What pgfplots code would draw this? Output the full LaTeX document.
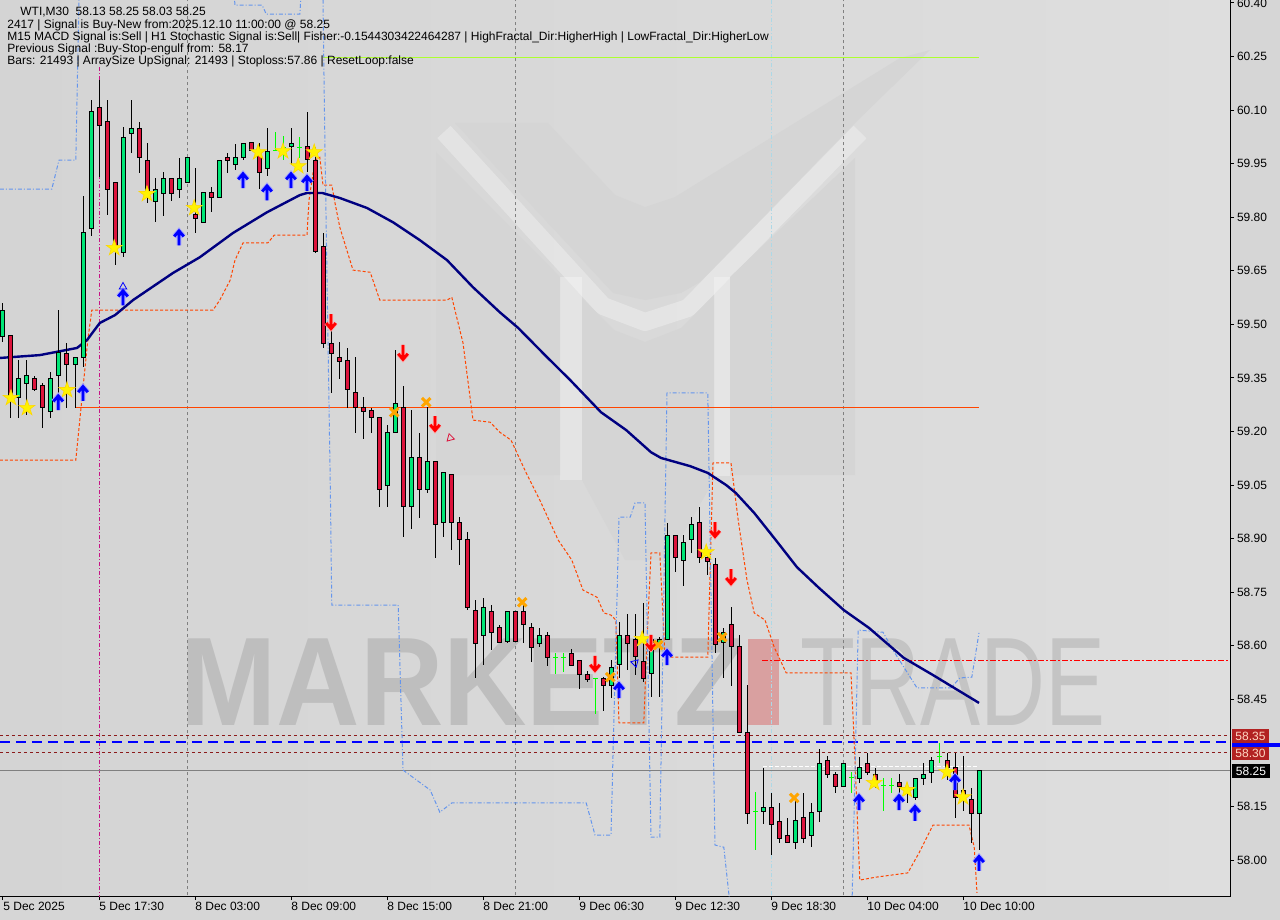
\documentclass[border=0pt]{standalone}
\usepackage{fontspec}
\setmainfont{Liberation Sans}
\usepackage{pgfplots}
\usepackage{pgfplotstable}
\pgfplotsset{compat=1.18}
\definecolor{bull}{RGB}{0,230,118}
\definecolor{bear}{RGB}{220,20,60}
\definecolor{doji}{RGB}{0,255,0}
\definecolor{slc}{RGB}{255,69,0}
\definecolor{envc}{RGB}{100,149,237}
\definecolor{mac}{RGB}{0,0,128}
\definecolor{tagred}{RGB}{178,34,34}
\definecolor{dred}{RGB}{139,26,26}
\definecolor{winbg}{RGB}{214,214,214}
\definecolor{bgL}{RGB}{212,212,212}
\definecolor{bgM}{RGB}{235,235,235}
\definecolor{bgR}{RGB}{222,222,222}
\definecolor{logo}{RGB}{213,213,213}
\definecolor{wm}{RGB}{190,190,190}
\definecolor{wm2}{RGB}{196,196,196}
\definecolor{wmpink}{RGB}{217,160,160}
\definecolor{ygreen}{RGB}{173,255,47}
\definecolor{vmag}{RGB}{199,21,133}
\definecolor{lblue}{RGB}{173,216,230}
\definecolor{xorange}{RGB}{255,165,0}

\pgfdeclareplotmark{ystar}{%
  \pgfpathmoveto{\pgfpoint{0pt}{\pgfplotmarksize}}%
  \pgfpathlineto{\pgfpoint{-0.2245\pgfplotmarksize}{0.309\pgfplotmarksize}}%
  \pgfpathlineto{\pgfpoint{-0.951\pgfplotmarksize}{0.309\pgfplotmarksize}}%
  \pgfpathlineto{\pgfpoint{-0.363\pgfplotmarksize}{-0.118\pgfplotmarksize}}%
  \pgfpathlineto{\pgfpoint{-0.588\pgfplotmarksize}{-0.809\pgfplotmarksize}}%
  \pgfpathlineto{\pgfpoint{0pt}{-0.382\pgfplotmarksize}}%
  \pgfpathlineto{\pgfpoint{0.588\pgfplotmarksize}{-0.809\pgfplotmarksize}}%
  \pgfpathlineto{\pgfpoint{0.363\pgfplotmarksize}{-0.118\pgfplotmarksize}}%
  \pgfpathlineto{\pgfpoint{0.951\pgfplotmarksize}{0.309\pgfplotmarksize}}%
  \pgfpathlineto{\pgfpoint{0.2245\pgfplotmarksize}{0.309\pgfplotmarksize}}%
  \pgfpathclose
  \pgfusepathqfillstroke}
\pgfdeclareplotmark{uarrow}{%
  \pgfpathmoveto{\pgfpoint{0pt}{-\pgfplotmarksize}}%
  \pgfpathlineto{\pgfpoint{0pt}{0.75\pgfplotmarksize}}%
  \pgfpathmoveto{\pgfpoint{-0.6\pgfplotmarksize}{0.1\pgfplotmarksize}}%
  \pgfpathlineto{\pgfpoint{0pt}{0.8\pgfplotmarksize}}%
  \pgfpathlineto{\pgfpoint{0.6\pgfplotmarksize}{0.1\pgfplotmarksize}}%
  \pgfusepathqstroke}
\pgfdeclareplotmark{darrow}{%
  \pgfpathmoveto{\pgfpoint{0pt}{\pgfplotmarksize}}%
  \pgfpathlineto{\pgfpoint{0pt}{-0.75\pgfplotmarksize}}%
  \pgfpathmoveto{\pgfpoint{-0.6\pgfplotmarksize}{-0.1\pgfplotmarksize}}%
  \pgfpathlineto{\pgfpoint{0pt}{-0.8\pgfplotmarksize}}%
  \pgfpathlineto{\pgfpoint{0.6\pgfplotmarksize}{-0.1\pgfplotmarksize}}%
  \pgfusepathqstroke}

% bullish candles (close above open)
\pgfplotstableread{
i O H L C
0 59.466 59.560 59.450 59.540
2 59.296 59.400 59.238 59.350
3 59.336 59.400 59.246 59.358
6 59.257 59.366 59.238 59.350
7 59.358 59.540 59.308 59.420
9 59.389 59.408 59.268 59.408
10 59.408 59.859 59.380 59.758
11 59.770 60.128 59.747 60.097
15 59.700 60.052 59.688 60.024
16 60.036 60.128 59.980 60.050
19 59.845 59.910 59.786 59.879
20 59.868 59.929 59.806 59.910
22 59.879 59.968 59.856 59.910
23 59.898 59.968 59.898 59.968
25 59.786 59.868 59.786 59.868
27 59.856 59.960 59.856 59.960
29 59.949 60.008 59.935 59.968
30 59.968 60.008 59.960 60.008
33 59.938 60.050 59.915 59.985
36 59.999 60.050 59.946 60.008
48 59.050 59.218 58.990 59.198
49 59.198 59.428 59.198 59.280
51 58.990 59.260 58.927 59.128
53 59.039 59.268 59.028 59.117
55 58.946 59.086 58.907 59.086
60 58.630 58.734 58.546 58.708
63 58.613 58.697 58.608 58.697
67 58.608 58.650 58.596 58.630
76 58.490 58.560 58.454 58.540
77 58.549 58.666 58.510 58.630
81 58.521 58.619 58.456 58.619
82 58.608 58.625 58.456 58.619
83 58.619 58.944 58.619 58.910
85 58.840 58.910 58.767 58.890
86 58.899 58.960 58.860 58.941
90 58.610 58.650 58.510 58.638
95 58.137 58.258 58.101 58.148
99 58.050 58.165 58.031 58.109
101 58.067 58.160 58.036 58.132
102 58.137 58.311 58.107 58.272
105 58.207 58.272 58.207 58.272
107 58.230 58.291 58.218 58.260
114 58.176 58.230 58.168 58.230
115 58.230 58.272 58.210 58.241
116 58.246 58.291 58.218 58.280
122 58.130 58.250 58.030 58.250
}\upC
% bearish candles
\pgfplotstableread{
i O H L C
1 59.470 59.470 59.238 59.296
4 59.350 59.355 59.313 59.319
5 59.330 59.338 59.210 59.268
8 59.420 59.448 59.268 59.389
12 60.108 60.184 59.912 60.058
13 60.069 60.128 59.806 59.879
14 59.898 59.898 59.669 59.716
17 60.050 60.069 59.926 59.968
18 59.960 60.008 59.840 59.873
21 59.910 59.910 59.845 59.868
24 59.809 59.938 59.756 59.798
26 59.868 59.887 59.817 59.856
28 59.968 59.980 59.926 59.960
31 60.008 60.008 59.988 59.988
32 59.974 60.008 59.879 59.926
38 59.999 60.094 59.926 59.960
39 59.960 59.996 59.700 59.705
40 59.719 59.756 59.436 59.448
41 59.448 59.492 59.308 59.420
42 59.408 59.450 59.347 59.397
43 59.400 59.436 59.268 59.319
44 59.310 59.408 59.196 59.268
45 59.268 59.299 59.179 59.257
46 59.260 59.266 59.196 59.240
47 59.240 59.240 58.990 59.039
50 59.268 59.330 58.907 58.990
52 59.128 59.198 58.958 59.039
54 59.117 59.117 58.846 58.941
56 59.081 59.081 58.868 58.946
57 58.946 58.960 58.826 58.899
58 58.899 58.918 58.700 58.708
59 58.700 58.728 58.510 58.608
61 58.697 58.714 58.588 58.638
62 58.650 58.661 58.608 58.608
64 58.697 58.697 58.613 58.613
65 58.697 58.714 58.608 58.661
66 58.650 58.666 58.557 58.596
68 58.630 58.641 58.546 58.568
71 58.580 58.591 58.546 58.546
72 58.560 58.560 58.479 58.521
73 58.521 58.529 58.498 58.507
75 58.510 58.512 58.417 58.490
78 58.630 58.689 58.532 58.608
79 58.619 58.689 58.518 58.571
80 58.557 58.720 58.498 58.510
84 58.910 58.910 58.806 58.848
87 58.946 58.988 58.832 58.848
88 58.848 58.860 58.798 58.837
89 58.829 58.846 58.580 58.605
91 58.661 58.711 58.487 58.599
92 58.599 58.630 58.358 58.358
93 58.358 58.490 58.101 58.132
96 58.148 58.190 58.017 58.101
97 58.109 58.160 58.050 58.062
98 58.070 58.120 58.050 58.050
100 58.120 58.190 58.050 58.062
103 58.280 58.291 58.230 58.241
104 58.241 58.246 58.188 58.207
108 58.272 58.300 58.238 58.246
109 58.241 58.260 58.202 58.224
112 58.218 58.241 58.188 58.207
113 58.202 58.210 58.160 58.190
118 58.280 58.300 58.224 58.260
119 58.260 58.300 58.118 58.176
120 58.196 58.291 58.137 58.168
121 58.171 58.202 58.050 58.132
}\downC
% doji candles (open = close)
\pgfplotstableread{
i O H L C
34 59.988 60.038 59.988 59.988
35 59.994 60.027 59.960 59.994
37 59.996 60.027 59.968 59.996
69 58.568 58.580 58.521 58.568
70 58.568 58.580 58.526 58.568
74 58.507 58.507 58.409 58.507
94 58.137 58.190 58.028 58.137
106 58.230 58.246 58.188 58.230
110 58.210 58.230 58.137 58.210
111 58.210 58.230 58.188 58.210
117 58.291 58.328 58.272 58.291
}\dojiC

\pgfplotsset{
  wick/.style={draw=none, mark=none, error bars/.cd, y dir=both, y explicit, error mark=none, error bar style={draw=#1, line width=0.5pt}},
  body/.style 2 args={draw=none, mark=none, error bars/.cd, y dir=both, y explicit, error mark=none, error bar style={draw=#1, line width=#2}},
}

\begin{document}
\begin{tikzpicture}
\begin{scope}[x=0.5pt,y=-0.5pt]
  \fill[winbg] (0,0) rectangle (1280,920);
  \shade[left color=bgL, middle color=bgM, right color=bgR] (0,0) rectangle (1230,896);
  % logo watermark
  \draw[white, opacity=0.3, line width=9pt, line join=round] (444,132) -- (603,306) -- (645,322) -- (688,308) -- (860,132);
  \fill[white, opacity=0.3] (560,277) rectangle (582,480);
  \fill[white, opacity=0.3] (714,277) rectangle (730,476);
  \fill[logo] (455,123) -- (548,123) -- (615,195) -- (645,207) -- (675,197) -- (900,58) -- (930,50) -- (855,123) -- (700,282) -- (681,293) -- (645,300) -- (613,293) -- cycle;
  \fill[logo] (436,152) -- (560,277) -- (560,475) -- (436,475) -- cycle;
  \fill[logo] (730,277) -- (855,158) -- (855,475) -- (730,475) -- cycle;
  \fill[logo] (582,298) -- (614,330) -- (645,342) -- (681,328) -- (714,295) -- (714,480) -- (668,560) -- (625,560) -- (582,480) -- cycle;
  % text watermark
  \node[anchor=west, inner sep=0pt, font=\fontsize{63}{63}\selectfont\bfseries, text=wm, xscale=0.917] at (180,682) {MARKETZ};
  \fill[wmpink] (748,639) rectangle (779,725);
  \node[anchor=west, inner sep=0pt, font=\fontsize{63}{63}\selectfont, text=wm2, xscale=0.714] at (800,682) {TRADE};
\end{scope}

\begin{axis}[
  at={(0pt,0pt)}, anchor=north west,
  width=615pt, height=448pt, scale only axis,
  xmin=-0.375, xmax=153.375, ymin=57.8993, ymax=60.4084,
  axis line style={line width=0.5pt, black},
  tick style={line width=0.5pt, black},
  tick align=outside, major tick length=2pt,
  xtick pos=bottom, ytick pos=right,
  xtick={0,12,24,36,48,60,72,84,96,108,120},
  xticklabels={5 Dec 2025,5 Dec 17:30,8 Dec 03:00,8 Dec 09:00,8 Dec 15:00,8 Dec 21:00,9 Dec 06:30,9 Dec 12:30,9 Dec 18:30,10 Dec 04:00,10 Dec 10:00},
  ytick={58.00,58.15,58.45,58.60,58.75,58.90,59.05,59.20,59.35,59.50,59.65,59.80,59.95,60.10,60.25,60.40},
  yticklabel pos=right,
  y tick label style={/pgf/number format/fixed, /pgf/number format/fixed zerofill, /pgf/number format/precision=2, /pgf/number format/assume math mode=true, anchor=west, inner sep=0pt, xshift=1.3pt},
  x tick label style={anchor=north west, inner sep=0pt, yshift=-1pt},
  tick label style={font=\fontsize{6.0}{7.2}\selectfont},
]
% vertical separators
\addplot[gray, line width=0.5pt, dash pattern=on 1.5pt off 1.5pt] coordinates {(23,57.8) (23,60.5)};
\addplot[gray, line width=0.5pt, dash pattern=on 1.5pt off 1.5pt] coordinates {(64,57.8) (64,60.5)};
\addplot[gray, line width=0.5pt, dash pattern=on 1.5pt off 1.5pt] coordinates {(105,57.8) (105,60.5)};
\addplot[vmag, line width=0.5pt, dash pattern=on 2pt off 1pt on 0.5pt off 1pt] coordinates {(12,60.22) (12,57.8)};
\addplot[lblue, line width=0.5pt, dash pattern=on 2pt off 1pt on 0.5pt off 1pt] coordinates {(96,57.8) (96,60.5)};
% horizontal lines
\addplot[ygreen, line width=0.5pt] coordinates {(40,60.248) (122,60.248)};
\addplot[slc, line width=0.5pt] coordinates {(9.1,59.268) (122,59.268)};
\addplot[red, line width=0.5pt, dash pattern=on 3pt off 1pt on 1pt off 1pt] coordinates {(94.9,58.560) (153.4,58.560)};
\addplot[dred, line width=0.5pt, dash pattern=on 1.5pt off 1.5pt] coordinates {(-0.4,58.35) (153.4,58.35)};
\addplot[dred, line width=0.5pt, dash pattern=on 1.5pt off 1.5pt] coordinates {(-0.4,58.30) (153.4,58.30)};
\addplot[blue, line width=0.8pt, dash pattern=on 5pt off 3pt] coordinates {(-0.4,58.33) (153.4,58.33)};
\addplot[gray, line width=0.5pt] coordinates {(-0.4,58.25) (153.4,58.25)};
\addplot[white, line width=0.5pt, dash pattern=on 2pt off 1pt] coordinates {(95,58.262) (122,58.262)};
% stop line
\addplot[slc, line width=0.5pt, dash pattern=on 1.5pt off 1pt] coordinates {
(-0.375,59.120) (9.1,59.120) (10.6,59.456) (11.1,59.540) (26.25,59.540) (27.1,59.568) (28.4,59.624) (29,59.680) (30,59.728) (33.1,59.728) (33.9,59.750) (38,59.750) (38.25,59.848) (39,59.960) (39.6,59.968) (40,59.890) (41.1,59.890) (41.5,59.840) (42.1,59.772) (43.75,59.652) (45.9,59.646) (47.1,59.568) (55.5,59.568) (56.1,59.576) (57.5,59.448) (58.75,59.232) (60.9,59.226) (62.1,59.198) (63.5,59.176) (65.4,59.084) (67.1,59.008) (69.4,58.896) (71.1,58.840) (72.5,58.756) (74.25,58.736) (75.1,58.692) (76,58.686) (76.6,58.672) (77,58.384) (80.1,58.384) (80.5,58.616) (81,58.860) (82.1,58.860) (82.75,58.568) (88.1,58.568) (88.75,59.112) (91,59.112) (91.9,58.952) (93,58.784) (93.9,58.692) (95.25,58.672) (96.4,58.596) (97.9,58.524) (106,58.524) (106.5,58.280) (107.1,57.944) (109.1,57.952) (113.1,57.964) (114.5,58.020) (116.25,58.098) (120.75,58.098) (121.4,58.036) (121.75,57.908)};
% envelope line
\addplot[envc, line width=0.5pt, dash pattern=on 2pt off 1pt on 0.5pt off 1pt] coordinates {
(-0.375,59.879) (6.1,59.879) (7,59.960) (9.1,59.960) (9.5,60.408) (9.6,60.50) (28.6,60.50) (29,60.394) (32.4,60.394) (32.9,60.369) (37.1,60.369) (37.5,60.50) (39.6,60.50) (40,60.408) (40.25,59.988) (40.9,59.064) (41.1,58.714) (49.4,58.714) (50,58.252) (53.4,58.196) (54.6,58.134) (56.1,58.160) (72.9,58.160) (74,58.070) (76,58.070) (77,58.960) (78.4,58.960) (79,59.000) (80.25,59.000) (81,58.064) (82.1,58.064) (83,59.308) (88.1,59.308) (89,58.042) (90.1,58.036) (91,57.85)};
\addplot[envc, line width=0.5pt, dash pattern=on 2pt off 1pt on 0.5pt off 1pt] coordinates {
(106.1,57.85) (106.9,58.644) (110,58.638) (111.25,58.588) (114.25,58.482) (118.5,58.482) (119.6,58.510) (121.1,58.512) (122,58.636)};
% moving average
\addplot[mac, line width=1.2pt] coordinates {
(-0.375,59.406) (4.6,59.414) (9.25,59.434) (10.5,59.456) (12.1,59.504) (14,59.526) (16.25,59.568) (21.25,59.644) (24.6,59.688) (28.75,59.756) (33,59.814) (37.1,59.862) (38,59.868) (39.9,59.868) (42.1,59.854) (45.5,59.826) (48.75,59.786) (52.1,59.736) (55.5,59.680) (58.75,59.604) (62.1,59.534) (64.4,59.490) (67.75,59.414) (70.9,59.344) (74.75,59.254) (77.9,59.204) (81,59.142) (82.25,59.126) (85.9,59.103) (88.1,59.084) (90.4,59.050) (91.6,59.028) (93.9,58.972) (96.6,58.896) (99.25,58.820) (102,58.762) (105.1,58.700) (108.25,58.650) (112.6,58.566) (116.25,58.518) (118.9,58.482) (122,58.440)};
% wicks
\addplot[wick=black] table[x=i, y expr={(\thisrow{H}+\thisrow{L})/2}, y error expr={(\thisrow{H}-\thisrow{L})/2}] {\upC};
\addplot[wick=black] table[x=i, y expr={(\thisrow{H}+\thisrow{L})/2}, y error expr={(\thisrow{H}-\thisrow{L})/2}] {\downC};
\addplot[wick=doji] table[x=i, y expr={(\thisrow{H}+\thisrow{L})/2}, y error expr={(\thisrow{H}-\thisrow{L})/2}] {\dojiC};
\addplot[only marks, mark=-, mark size=1.25pt, doji, mark options={line width=0.5pt}] table[x=i, y=O] {\dojiC};
% bodies: black outline, then fill colour
\addplot[body={black}{2.5pt}] table[x=i, y expr={(\thisrow{O}+\thisrow{C})/2}, y error expr={abs(\thisrow{C}-\thisrow{O})/2+0.0014}] {\upC};
\addplot[body={black}{2.5pt}] table[x=i, y expr={(\thisrow{O}+\thisrow{C})/2}, y error expr={abs(\thisrow{C}-\thisrow{O})/2+0.0014}] {\downC};
\addplot[body={bull}{1.5pt}] table[x=i, y expr={(\thisrow{O}+\thisrow{C})/2}, y error expr={max(abs(\thisrow{C}-\thisrow{O})/2-0.0014,0.0003)}] {\upC};
\addplot[body={bear}{1.5pt}] table[x=i, y expr={(\thisrow{O}+\thisrow{C})/2}, y error expr={max(abs(\thisrow{C}-\thisrow{O})/2-0.0014,0.0003)}] {\downC};
% signal markers
\addplot[only marks, mark=ystar, mark size=4.2pt, mark options={fill=yellow, draw=yellow!75!orange, line width=0.3pt}] coordinates {
(1,59.294) (3,59.266) (8,59.316) (13.9,59.714) (18,59.865) (23.9,59.826) (31.9,59.982) (35,59.985) (36.9,59.943) (38.9,59.982) (79.9,58.619) (87.9,58.862) (108.9,58.216) (113,58.196) (118,58.246) (120,58.176)};
\addplot[only marks, mark=uarrow, mark size=4pt, mark options={draw=blue!35, line width=2.4pt}] coordinates {
(6.9,59.282) (10,59.308) (15,59.576) (22,59.744) (30,59.904) (33,59.870) (36,59.904) (38,59.896) (77,58.476) (83,58.568) (107,58.162) (112,58.162) (114,58.132) (119,58.218) (122,57.992)};
\addplot[only marks, mark=uarrow, mark size=4pt, mark options={draw=blue, line width=1.4pt}] coordinates {
(6.9,59.282) (10,59.308) (15,59.576) (22,59.744) (30,59.904) (33,59.870) (36,59.904) (38,59.896) (77,58.476) (83,58.568) (107,58.162) (112,58.162) (114,58.132) (119,58.218) (122,57.992)};
\addplot[only marks, mark=darrow, mark size=4pt, mark options={draw=red!35, line width=2.2pt}] coordinates {
(41,59.506) (50,59.420) (54,59.221) (74,58.549) (81,58.608) (89,58.924) (91,58.792)};
\addplot[only marks, mark=darrow, mark size=4pt, mark options={draw=red, line width=1.4pt}] coordinates {
(41,59.506) (50,59.420) (54,59.221) (74,58.549) (81,58.608) (89,58.924) (91,58.792)};
\addplot[only marks, mark=x, mark size=3pt, mark options={draw=xorange, line width=1.5pt}] coordinates {
(48.9,59.254) (52.9,59.282) (64.9,58.722) (75.9,58.512) (81.9,58.602) (89.9,58.624) (98.9,58.174)};
\addplot[only marks, mark=triangle, mark size=2.2pt, mark options={draw=blue, line width=0.4pt}] coordinates {(15,59.605)};
\addplot[only marks, mark=triangle, mark size=2.2pt, mark options={draw=bear, line width=0.4pt, rotate=135}] coordinates {(55.9,59.182)};
\addplot[only marks, mark=triangle, mark size=2.2pt, mark options={draw=blue, line width=0.4pt, rotate=-45}] coordinates {(79,58.552)};
\end{axis}

\begin{scope}[x=0.5pt,y=-0.5pt]
  \tikzset{hdr/.style={anchor=base west, inner sep=0pt, font=\fontsize{6.0}{7.2}\selectfont}}
  \node[hdr] at (20,16) {WTI,M30\ \ 58.13 58.25 58.03 58.25};
  \node[hdr] at (7,29) {2417 | Signal is Buy-New from:2025.12.10 11:00:00 @ 58.25};
  \node[hdr] at (7,41) {M15 MACD Signal is:Sell | H1 Stochastic Signal is:Sell| Fisher:-0.1544303422464287 | HighFractal\_Dir:HigherHigh | LowFractal\_Dir:HigherLow};
  \node[hdr] at (7,53) {Previous Signal :Buy-Stop-engulf from: 58.17};
  \node[hdr] at (7,65) {Bars: 21493 | ArraySize UpSignal: 21493 | Stoploss:57.86 | ResetLoop:false};
  % price tags
  \fill[tagred] (1232,729) rectangle (1269,743);
  \node[anchor=center, inner sep=0pt, font=\fontsize{6.0}{7.2}\selectfont, text={rgb,255:red,255;green,215;blue,195}] at (1250.5,736) {58.35};
  \fill[blue] (1232,743) rectangle (1280,747);
  \fill[tagred] (1232,747) rectangle (1269,760);
  \node[anchor=center, inner sep=0pt, font=\fontsize{6.0}{7.2}\selectfont, text={rgb,255:red,255;green,215;blue,195}] at (1250.5,753.5) {58.30};
  \fill[black] (1232,764) rectangle (1270,778);
  \node[anchor=center, inner sep=0pt, font=\fontsize{6.0}{7.2}\selectfont, text=white] at (1251,771) {58.25};
  \pgfresetboundingbox
  \useasboundingbox (0,0) rectangle (1280,920);
\end{scope}
\end{tikzpicture}
\end{document}
